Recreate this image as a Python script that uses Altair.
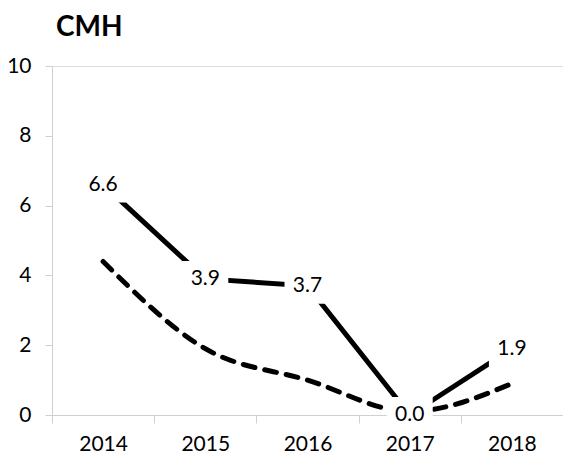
import altair as alt
import pandas as pd

# Annual values for the CMH panel
years = ["2014", "2015", "2016", "2017", "2018"]
actual = [6.6, 3.9, 3.7, 0.0, 1.9]
reference = [4.4, 1.9, 1.0, 0.1, 0.9]

df = pd.DataFrame({"year": years, "actual": actual, "reference": reference})

FONT = "Lato"
AXIS_GRAY = "#d0d0d0"
LABEL_SIZE = 21

x_enc = alt.X(
    "year:O",
    bandPosition=0.5,
    scale=alt.Scale(type="band", paddingInner=0, paddingOuter=0),
    axis=alt.Axis(
        title=None,
        labelAngle=0,
        tickBand="extent",
        domainColor=AXIS_GRAY,
        tickColor=AXIS_GRAY,
        tickSize=8,
        labelFontSize=LABEL_SIZE,
        labelFont=FONT,
        labelColor="#000000",
        labelPadding=10,
    ),
)

y_scale = alt.Scale(domain=[0, 10], nice=False, zero=True)
y_axis = alt.Axis(
    title=None,
    values=[0, 2, 4, 6, 8, 10],
    grid=False,
    domainColor=AXIS_GRAY,
    tickColor=AXIS_GRAY,
    tickSize=7,
    labelFontSize=LABEL_SIZE,
    labelFont=FONT,
    labelColor="#000000",
    labelPadding=14,
)

base = alt.Chart(df)

dashed = base.mark_line(
    color="#000000", strokeWidth=5, strokeDash=[12, 10], strokeCap="round",
    interpolate="monotone",
).encode(x=x_enc, y=alt.Y("reference:Q", scale=y_scale, axis=y_axis))

solid = base.mark_line(color="#000000", strokeWidth=5).encode(
    x=x_enc, y=alt.Y("actual:Q", scale=y_scale, axis=y_axis)
)

# white label boxes that interrupt the lines behind each value
boxes = base.mark_point(
    shape="M-1,-0.78L1,-0.78L1,0.78L-1,0.78Z",
    size=46 * 46,
    filled=True,
    fill="#ffffff",
    opacity=1,
    strokeWidth=0,
).encode(x=x_enc, y=alt.Y("actual:Q", scale=y_scale))

labels = base.mark_text(
    font=FONT, fontSize=LABEL_SIZE, color="#000000", align="center", baseline="middle"
).encode(
    x=x_enc,
    y=alt.Y("actual:Q", scale=y_scale),
    text=alt.Text("actual:Q", format=".1f"),
)

chart = (
    alt.layer(dashed, solid, boxes, labels)
    .properties(
        width=511,
        height=349,
        title=alt.TitleParams(
            "CMH",
            anchor="start",
            frame="group",
            font=FONT,
            fontSize=28,
            fontWeight="bold",
            color="#000000",
            dx=4,
            offset=13,
        ),
        autosize=alt.AutoSizeParams(type="none"),
        padding={"left": 52, "top": 66, "right": 0, "bottom": 51},
    )
    .configure_view(stroke=None)
    .configure(background="#ffffff")
)

chart.save("out.html", embed_options={"renderer": "svg", "actions": False})
